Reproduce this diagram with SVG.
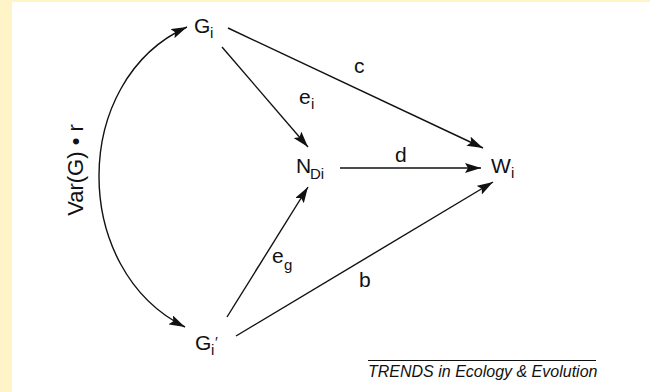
<svg xmlns="http://www.w3.org/2000/svg" width="650" height="392" viewBox="0 0 650 392">
<style>
.lbl{font-family:"Liberation Sans",Arial,sans-serif;font-size:21px;fill:#111}
.sub{font-size:15px}
.conn{stroke:#111;stroke-width:1.4;fill:none;marker-end:url(#ah)}
.foot{font-family:"Liberation Sans",Arial,sans-serif;font-size:16px;font-style:italic;fill:#111}
</style>
<defs>
<marker id="ah" markerUnits="userSpaceOnUse" markerWidth="17" markerHeight="10" refX="16" refY="5" orient="auto-start-reverse" viewBox="0 0 17 10">
<path d="M0,0 L16,5 L0,10 L3,5 z" fill="#111"/>
</marker>
</defs>
<rect x="0" y="0" width="650" height="392" fill="#fff"/>
<rect x="0" y="0" width="650" height="2" fill="#fff3c8"/>
<rect x="0" y="0" width="12" height="392" fill="#fff3c8"/>
<g id="connectors">
<path class="conn" d="M185,327 C70,270 70,80 187,27" style="marker-start:url(#ah)"/>
<line class="conn" x1="228" y1="28" x2="483" y2="148"/>
<line class="conn" x1="222" y1="47" x2="308" y2="147"/>
<line class="conn" x1="340" y1="168" x2="481" y2="168"/>
<line class="conn" x1="227" y1="317" x2="308" y2="187"/>
<line class="conn" x1="236" y1="336" x2="493" y2="182"/>
<text class="lbl" x="354" y="73">c</text>
<text class="lbl" x="299" y="104">e<tspan class="sub" x="311" y="109">i</tspan></text>
<text class="lbl" x="395" y="162">d</text>
<text class="lbl" x="272" y="263">e<tspan class="sub" x="284" y="270">g</tspan></text>
<text class="lbl" x="359" y="287">b</text>
<text class="lbl" transform="translate(83,170) rotate(-90)" text-anchor="middle" style="font-size:22px">Var(G) • r</text>
</g>
<g id="Gi"><text class="lbl" x="194" y="33">G<tspan class="sub" x="210" y="38">i</tspan></text></g>
<g id="Gip"><text class="lbl" x="195" y="350">G<tspan class="sub" x="211" y="355">i</tspan><tspan x="215" y="347" class="sub">′</tspan></text></g>
<g id="NDi"><text class="lbl" x="296" y="173">N<tspan class="sub" x="310" y="179">Di</tspan></text></g>
<g id="Wi"><text class="lbl" x="491" y="173">W<tspan class="sub" x="511" y="178">i</tspan></text></g>
<g id="footer">
<line x1="368" y1="360.5" x2="596" y2="360.5" stroke="#111" stroke-width="1"/>
<text class="foot" x="368" y="377">TRENDS in Ecology &amp; Evolution</text>
</g>
</svg>
